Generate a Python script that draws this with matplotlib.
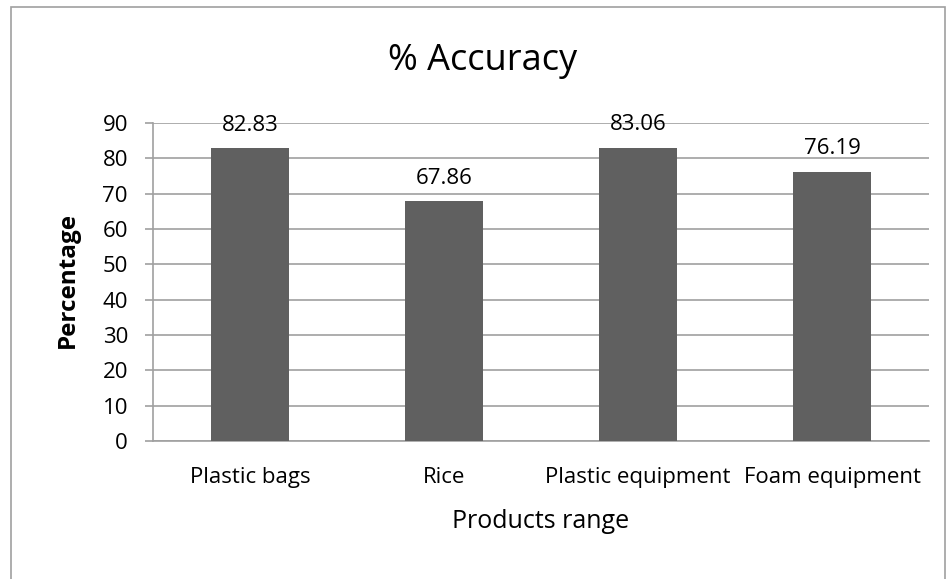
import matplotlib.pyplot as plt
from matplotlib.patches import Rectangle

categories = ["Plastic bags", "Rice", "Plastic equipment", "Foam equipment"]
values = [82.83, 67.86, 83.06, 76.19]
labels = ["82.83", "67.86", "83.06", "76.19"]
yticks = [0, 10, 20, 30, 40, 50, 60, 70, 80, 90]

plt.rcParams['font.family'] = ['Open Sans', 'DejaVu Sans']

fig = plt.figure(figsize=(9.53, 5.79), dpi=100)
ax = fig.add_axes([153/953, 1-441/579, (929-153)/953, (441-123)/579])

x = list(range(len(categories)))
ax.bar(x, values, width=0.40, color='#606060', zorder=3)
ax.set_xlim(-0.5, len(categories)-0.5)
ax.set_ylim(0, 90)
ax.set_yticks(yticks)
ax.set_xticks(x)
ax.set_xticklabels(categories, fontsize=16)
ax.tick_params(axis='x', length=0, pad=19)
ax.tick_params(axis='y', length=6, width=1.2, color='#A0A0A0', labelsize=16, pad=12)
ax.grid(axis='y', color='#A0A0A0', linewidth=1.2, zorder=0)
for s in ['top', 'right']:
    ax.spines[s].set_visible(False)
ax.spines['left'].set_color('#A0A0A0')
ax.spines['left'].set_linewidth(1.2)
ax.spines['bottom'].set_color('#A0A0A0')
ax.spines['bottom'].set_linewidth(1.2)

for xi, v, l in zip(x, values, labels):
    ax.annotate(l, (xi, v), xytext=(0, 16.5), textcoords='offset points',
                ha='center', va='center', fontsize=16, zorder=4)

ax.set_xlabel("Products range", fontsize=18)
ax.set_ylabel("Percentage", fontsize=17.5, fontweight='bold')
ax.xaxis.label.set_va('center')
ax.yaxis.label.set_va('center')
ax.xaxis.set_label_coords((541-153)/776, (441-522)/318)
ax.yaxis.set_label_coords((68-153)/776, (441-280)/318)
fig.text(483/953, 1-61/579, "% Accuracy", ha='center', va='center', fontsize=26)

fig.add_artist(Rectangle((11/953, -0.01), (945-11)/953, 1-7/579+0.01,
                         transform=fig.transFigure, fill=False,
                         edgecolor='#A0A0A0', linewidth=1.2))

fig.savefig("out.png", dpi=100)
